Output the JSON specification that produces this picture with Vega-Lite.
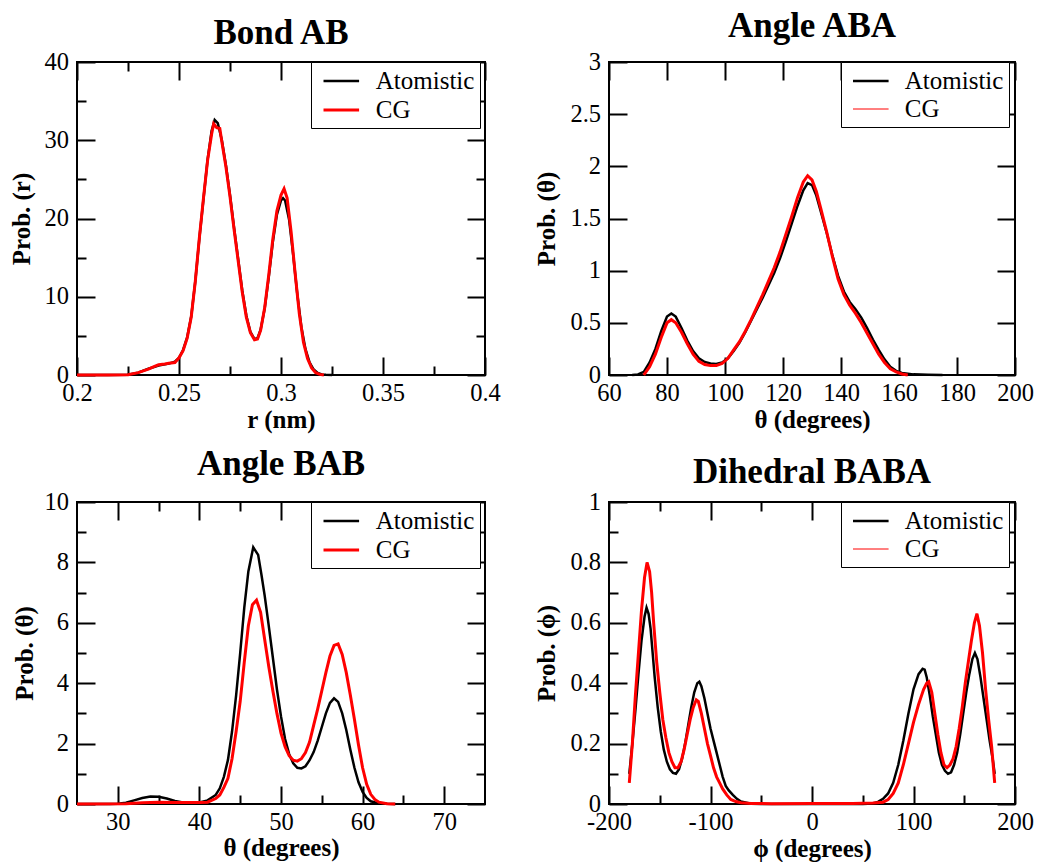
{
  "$schema": "https://vega.github.io/schema/vega-lite/v6.json",
  "background": "white",
  "padding": {"left": 8, "top": 8, "right": 0, "bottom": 0},
  "config": {
    "view": {"stroke": "black", "strokeWidth": 2},
    "title": {"font": "Liberation Serif", "fontSize": 35, "fontWeight": "bold", "color": "black", "anchor": "middle"},
    "axis": {"domain": false, "grid": false, "ticks": true, "tickColor": "black", "tickWidth": 2, "tickSize": -18, "minExtent": 0, "maxExtent": 0,
      "labelFont": "Liberation Serif", "labelFontSize": 24.5, "labelColor": "black", "labelOverlap": false, "labelFlush": false, "labelBound": false,
      "titleFont": "Liberation Serif", "titleFontSize": 25, "titleFontWeight": "bold", "titleColor": "black", "titleBaseline": "alphabetic"},
    "axisBottom": {"labelBaseline": "alphabetic", "labelPadding": 43.5},
    "axisLeft": {"labelPadding": 26.5, "labelAlign": "right", "labelBaseline": "middle"},
    "legend": {"labelFont": "Liberation Serif", "labelFontSize": 25, "labelColor": "black", "symbolType": "M-1.4,0L1.4,0", "symbolSize": 646, "symbolStrokeWidth": 3,
      "padding": 5, "rowPadding": 1.5, "labelOffset": 20, "symbolOffset": 10.8, "strokeColor": "black", "fillColor": "white"}
  },
  "resolve": {"scale": {"color": "independent", "strokeWidth": "independent"}, "legend": {"color": "independent", "strokeWidth": "independent"}},
  "datasets": {
    "bond": [
      {"x":0.2,"y":0,"s":"Atomistic"},{"x":0.215,"y":0,"s":"Atomistic"},{"x":0.225,"y":0.02,"s":"Atomistic"},{"x":0.23,"y":0.3,"s":"Atomistic"},{"x":0.235,"y":0.8,"s":"Atomistic"},{"x":0.24,"y":1.2,"s":"Atomistic"},{"x":0.245,"y":1.45,"s":"Atomistic"},{"x":0.248,"y":1.7,"s":"Atomistic"},{"x":0.25,"y":2.2,"s":"Atomistic"},{"x":0.252,"y":3.2,"s":"Atomistic"},{"x":0.254,"y":4.8,"s":"Atomistic"},{"x":0.256,"y":7.5,"s":"Atomistic"},{"x":0.258,"y":12,"s":"Atomistic"},{"x":0.26,"y":17.5,"s":"Atomistic"},{"x":0.262,"y":22.5,"s":"Atomistic"},{"x":0.264,"y":27.5,"s":"Atomistic"},{"x":0.266,"y":31.2,"s":"Atomistic"},{"x":0.2675,"y":32.6,"s":"Atomistic"},{"x":0.269,"y":32.2,"s":"Atomistic"},{"x":0.271,"y":30,"s":"Atomistic"},{"x":0.273,"y":26.8,"s":"Atomistic"},{"x":0.275,"y":23,"s":"Atomistic"},{"x":0.277,"y":18.8,"s":"Atomistic"},{"x":0.279,"y":14.8,"s":"Atomistic"},{"x":0.281,"y":10.8,"s":"Atomistic"},{"x":0.283,"y":7.6,"s":"Atomistic"},{"x":0.285,"y":5.5,"s":"Atomistic"},{"x":0.287,"y":4.6,"s":"Atomistic"},{"x":0.2885,"y":4.7,"s":"Atomistic"},{"x":0.29,"y":5.8,"s":"Atomistic"},{"x":0.292,"y":8.5,"s":"Atomistic"},{"x":0.294,"y":12.5,"s":"Atomistic"},{"x":0.296,"y":17,"s":"Atomistic"},{"x":0.298,"y":20.5,"s":"Atomistic"},{"x":0.3,"y":22.3,"s":"Atomistic"},{"x":0.301,"y":22.6,"s":"Atomistic"},{"x":0.302,"y":22.3,"s":"Atomistic"},{"x":0.304,"y":19.8,"s":"Atomistic"},{"x":0.306,"y":15.3,"s":"Atomistic"},{"x":0.308,"y":10.3,"s":"Atomistic"},{"x":0.31,"y":6.1,"s":"Atomistic"},{"x":0.312,"y":3.3,"s":"Atomistic"},{"x":0.314,"y":1.6,"s":"Atomistic"},{"x":0.316,"y":0.7,"s":"Atomistic"},{"x":0.318,"y":0.25,"s":"Atomistic"},{"x":0.32,"y":0.08,"s":"Atomistic"},{"x":0.322,"y":0.02,"s":"Atomistic"},{"x":0.325,"y":0,"s":"Atomistic"},
      {"x":0.2,"y":0,"s":"CG"},{"x":0.215,"y":0,"s":"CG"},{"x":0.225,"y":0.03,"s":"CG"},{"x":0.23,"y":0.3,"s":"CG"},{"x":0.235,"y":0.75,"s":"CG"},{"x":0.238,"y":1.1,"s":"CG"},{"x":0.24,"y":1.3,"s":"CG"},{"x":0.243,"y":1.4,"s":"CG"},{"x":0.245,"y":1.5,"s":"CG"},{"x":0.248,"y":1.6,"s":"CG"},{"x":0.25,"y":2.2,"s":"CG"},{"x":0.252,"y":3.1,"s":"CG"},{"x":0.254,"y":4.7,"s":"CG"},{"x":0.256,"y":7.4,"s":"CG"},{"x":0.258,"y":12,"s":"CG"},{"x":0.26,"y":17.6,"s":"CG"},{"x":0.262,"y":22.6,"s":"CG"},{"x":0.264,"y":27.4,"s":"CG"},{"x":0.266,"y":30.8,"s":"CG"},{"x":0.267,"y":32.1,"s":"CG"},{"x":0.2685,"y":31.6,"s":"CG"},{"x":0.27,"y":31.5,"s":"CG"},{"x":0.271,"y":29.8,"s":"CG"},{"x":0.273,"y":26.6,"s":"CG"},{"x":0.275,"y":22.8,"s":"CG"},{"x":0.277,"y":18.6,"s":"CG"},{"x":0.279,"y":14.6,"s":"CG"},{"x":0.281,"y":10.6,"s":"CG"},{"x":0.283,"y":7.4,"s":"CG"},{"x":0.285,"y":5.4,"s":"CG"},{"x":0.287,"y":4.5,"s":"CG"},{"x":0.2885,"y":4.6,"s":"CG"},{"x":0.29,"y":5.7,"s":"CG"},{"x":0.292,"y":8.6,"s":"CG"},{"x":0.294,"y":12.8,"s":"CG"},{"x":0.296,"y":17.4,"s":"CG"},{"x":0.298,"y":21,"s":"CG"},{"x":0.3,"y":23,"s":"CG"},{"x":0.3015,"y":23.8,"s":"CG"},{"x":0.303,"y":22.6,"s":"CG"},{"x":0.305,"y":18.2,"s":"CG"},{"x":0.307,"y":12.8,"s":"CG"},{"x":0.309,"y":7.8,"s":"CG"},{"x":0.311,"y":4.2,"s":"CG"},{"x":0.313,"y":2.1,"s":"CG"},{"x":0.315,"y":0.9,"s":"CG"},{"x":0.317,"y":0.3,"s":"CG"},{"x":0.319,"y":0.08,"s":"CG"},{"x":0.321,"y":0,"s":"CG"}
    ],
    "aba": [
      {"x":68,"y":0,"s":"Atomistic"},{"x":70,"y":0.005,"s":"Atomistic"},{"x":72,"y":0.03,"s":"Atomistic"},{"x":74,"y":0.12,"s":"Atomistic"},{"x":76,"y":0.25,"s":"Atomistic"},{"x":78,"y":0.42,"s":"Atomistic"},{"x":80,"y":0.56,"s":"Atomistic"},{"x":81.5,"y":0.59,"s":"Atomistic"},{"x":83,"y":0.56,"s":"Atomistic"},{"x":85,"y":0.45,"s":"Atomistic"},{"x":87,"y":0.33,"s":"Atomistic"},{"x":89,"y":0.23,"s":"Atomistic"},{"x":91,"y":0.16,"s":"Atomistic"},{"x":93,"y":0.125,"s":"Atomistic"},{"x":95,"y":0.11,"s":"Atomistic"},{"x":97,"y":0.105,"s":"Atomistic"},{"x":99,"y":0.12,"s":"Atomistic"},{"x":101,"y":0.16,"s":"Atomistic"},{"x":103,"y":0.23,"s":"Atomistic"},{"x":105,"y":0.31,"s":"Atomistic"},{"x":107,"y":0.41,"s":"Atomistic"},{"x":109,"y":0.52,"s":"Atomistic"},{"x":111,"y":0.63,"s":"Atomistic"},{"x":113,"y":0.74,"s":"Atomistic"},{"x":115,"y":0.86,"s":"Atomistic"},{"x":117,"y":0.98,"s":"Atomistic"},{"x":119,"y":1.12,"s":"Atomistic"},{"x":121,"y":1.28,"s":"Atomistic"},{"x":123,"y":1.45,"s":"Atomistic"},{"x":125,"y":1.62,"s":"Atomistic"},{"x":127,"y":1.77,"s":"Atomistic"},{"x":128.5,"y":1.84,"s":"Atomistic"},{"x":130,"y":1.82,"s":"Atomistic"},{"x":131.5,"y":1.72,"s":"Atomistic"},{"x":133,"y":1.57,"s":"Atomistic"},{"x":135,"y":1.37,"s":"Atomistic"},{"x":137,"y":1.15,"s":"Atomistic"},{"x":139,"y":0.95,"s":"Atomistic"},{"x":141,"y":0.8,"s":"Atomistic"},{"x":143,"y":0.7,"s":"Atomistic"},{"x":145,"y":0.63,"s":"Atomistic"},{"x":147,"y":0.55,"s":"Atomistic"},{"x":149,"y":0.45,"s":"Atomistic"},{"x":151,"y":0.34,"s":"Atomistic"},{"x":153,"y":0.24,"s":"Atomistic"},{"x":155,"y":0.15,"s":"Atomistic"},{"x":157,"y":0.08,"s":"Atomistic"},{"x":159,"y":0.04,"s":"Atomistic"},{"x":161,"y":0.02,"s":"Atomistic"},{"x":165,"y":0.006,"s":"Atomistic"},{"x":170,"y":0.002,"s":"Atomistic"},{"x":175,"y":0,"s":"Atomistic"},
      {"x":72,"y":0,"s":"CG"},{"x":74,"y":0.08,"s":"CG"},{"x":76,"y":0.2,"s":"CG"},{"x":78,"y":0.36,"s":"CG"},{"x":80,"y":0.5,"s":"CG"},{"x":81.5,"y":0.53,"s":"CG"},{"x":83,"y":0.5,"s":"CG"},{"x":85,"y":0.41,"s":"CG"},{"x":87,"y":0.3,"s":"CG"},{"x":89,"y":0.2,"s":"CG"},{"x":91,"y":0.13,"s":"CG"},{"x":93,"y":0.1,"s":"CG"},{"x":95,"y":0.09,"s":"CG"},{"x":97,"y":0.09,"s":"CG"},{"x":99,"y":0.11,"s":"CG"},{"x":101,"y":0.16,"s":"CG"},{"x":103,"y":0.24,"s":"CG"},{"x":105,"y":0.32,"s":"CG"},{"x":107,"y":0.42,"s":"CG"},{"x":109,"y":0.53,"s":"CG"},{"x":111,"y":0.65,"s":"CG"},{"x":113,"y":0.77,"s":"CG"},{"x":115,"y":0.9,"s":"CG"},{"x":117,"y":1.03,"s":"CG"},{"x":119,"y":1.18,"s":"CG"},{"x":121,"y":1.35,"s":"CG"},{"x":123,"y":1.52,"s":"CG"},{"x":125,"y":1.7,"s":"CG"},{"x":127,"y":1.85,"s":"CG"},{"x":128.5,"y":1.91,"s":"CG"},{"x":130,"y":1.87,"s":"CG"},{"x":131.5,"y":1.76,"s":"CG"},{"x":133,"y":1.6,"s":"CG"},{"x":135,"y":1.38,"s":"CG"},{"x":137,"y":1.14,"s":"CG"},{"x":139,"y":0.92,"s":"CG"},{"x":141,"y":0.77,"s":"CG"},{"x":143,"y":0.67,"s":"CG"},{"x":145,"y":0.59,"s":"CG"},{"x":147,"y":0.5,"s":"CG"},{"x":149,"y":0.4,"s":"CG"},{"x":151,"y":0.3,"s":"CG"},{"x":153,"y":0.2,"s":"CG"},{"x":155,"y":0.12,"s":"CG"},{"x":157,"y":0.06,"s":"CG"},{"x":159,"y":0.03,"s":"CG"},{"x":161,"y":0.01,"s":"CG"},{"x":163,"y":0,"s":"CG"}
    ],
    "bab": [
      {"x":25,"y":0,"s":"Atomistic"},{"x":29,"y":0,"s":"Atomistic"},{"x":30,"y":0.01,"s":"Atomistic"},{"x":31,"y":0.04,"s":"Atomistic"},{"x":32,"y":0.12,"s":"Atomistic"},{"x":33,"y":0.2,"s":"Atomistic"},{"x":34,"y":0.25,"s":"Atomistic"},{"x":35,"y":0.24,"s":"Atomistic"},{"x":36,"y":0.18,"s":"Atomistic"},{"x":37,"y":0.1,"s":"Atomistic"},{"x":38,"y":0.05,"s":"Atomistic"},{"x":39,"y":0.04,"s":"Atomistic"},{"x":40,"y":0.05,"s":"Atomistic"},{"x":41,"y":0.12,"s":"Atomistic"},{"x":42,"y":0.3,"s":"Atomistic"},{"x":42.5,"y":0.52,"s":"Atomistic"},{"x":43,"y":0.9,"s":"Atomistic"},{"x":43.5,"y":1.46,"s":"Atomistic"},{"x":44,"y":2.4,"s":"Atomistic"},{"x":44.5,"y":3.6,"s":"Atomistic"},{"x":45,"y":5,"s":"Atomistic"},{"x":45.5,"y":6.5,"s":"Atomistic"},{"x":46,"y":7.7,"s":"Atomistic"},{"x":46.6,"y":8.5,"s":"Atomistic"},{"x":47.2,"y":8.25,"s":"Atomistic"},{"x":47.6,"y":7.6,"s":"Atomistic"},{"x":48,"y":6.9,"s":"Atomistic"},{"x":48.5,"y":5.9,"s":"Atomistic"},{"x":49,"y":4.85,"s":"Atomistic"},{"x":49.5,"y":3.8,"s":"Atomistic"},{"x":50,"y":2.9,"s":"Atomistic"},{"x":50.5,"y":2.15,"s":"Atomistic"},{"x":51,"y":1.65,"s":"Atomistic"},{"x":51.5,"y":1.35,"s":"Atomistic"},{"x":52,"y":1.2,"s":"Atomistic"},{"x":52.5,"y":1.18,"s":"Atomistic"},{"x":53,"y":1.25,"s":"Atomistic"},{"x":53.5,"y":1.45,"s":"Atomistic"},{"x":54,"y":1.72,"s":"Atomistic"},{"x":54.5,"y":2.1,"s":"Atomistic"},{"x":55,"y":2.55,"s":"Atomistic"},{"x":55.5,"y":3.0,"s":"Atomistic"},{"x":56,"y":3.35,"s":"Atomistic"},{"x":56.5,"y":3.5,"s":"Atomistic"},{"x":57,"y":3.38,"s":"Atomistic"},{"x":57.5,"y":3.0,"s":"Atomistic"},{"x":58,"y":2.45,"s":"Atomistic"},{"x":58.5,"y":1.8,"s":"Atomistic"},{"x":59,"y":1.2,"s":"Atomistic"},{"x":59.5,"y":0.72,"s":"Atomistic"},{"x":60,"y":0.4,"s":"Atomistic"},{"x":60.5,"y":0.2,"s":"Atomistic"},{"x":61,"y":0.09,"s":"Atomistic"},{"x":62,"y":0.02,"s":"Atomistic"},{"x":63,"y":0.005,"s":"Atomistic"},{"x":64,"y":0,"s":"Atomistic"},
      {"x":25,"y":0,"s":"CG"},{"x":31,"y":0.01,"s":"CG"},{"x":33,"y":0.04,"s":"CG"},{"x":35,"y":0.06,"s":"CG"},{"x":37,"y":0.05,"s":"CG"},{"x":39,"y":0.05,"s":"CG"},{"x":40,"y":0.05,"s":"CG"},{"x":41,"y":0.06,"s":"CG"},{"x":42,"y":0.18,"s":"CG"},{"x":42.5,"y":0.3,"s":"CG"},{"x":43,"y":0.55,"s":"CG"},{"x":43.5,"y":0.85,"s":"CG"},{"x":44,"y":1.5,"s":"CG"},{"x":44.5,"y":2.4,"s":"CG"},{"x":45,"y":3.4,"s":"CG"},{"x":45.5,"y":4.7,"s":"CG"},{"x":46,"y":5.9,"s":"CG"},{"x":46.5,"y":6.6,"s":"CG"},{"x":47,"y":6.75,"s":"CG"},{"x":47.5,"y":6.35,"s":"CG"},{"x":48,"y":5.45,"s":"CG"},{"x":48.5,"y":4.55,"s":"CG"},{"x":49,"y":3.75,"s":"CG"},{"x":49.5,"y":3.0,"s":"CG"},{"x":50,"y":2.35,"s":"CG"},{"x":50.5,"y":1.9,"s":"CG"},{"x":51,"y":1.6,"s":"CG"},{"x":51.5,"y":1.45,"s":"CG"},{"x":52,"y":1.42,"s":"CG"},{"x":52.5,"y":1.5,"s":"CG"},{"x":53,"y":1.7,"s":"CG"},{"x":53.5,"y":2.05,"s":"CG"},{"x":54,"y":2.6,"s":"CG"},{"x":54.5,"y":3.15,"s":"CG"},{"x":55,"y":3.75,"s":"CG"},{"x":55.5,"y":4.35,"s":"CG"},{"x":56,"y":4.9,"s":"CG"},{"x":56.5,"y":5.25,"s":"CG"},{"x":57,"y":5.3,"s":"CG"},{"x":57.5,"y":4.95,"s":"CG"},{"x":58,"y":4.35,"s":"CG"},{"x":58.5,"y":3.6,"s":"CG"},{"x":59,"y":2.8,"s":"CG"},{"x":59.5,"y":1.95,"s":"CG"},{"x":60,"y":1.2,"s":"CG"},{"x":60.5,"y":0.65,"s":"CG"},{"x":61,"y":0.32,"s":"CG"},{"x":61.5,"y":0.15,"s":"CG"},{"x":62,"y":0.06,"s":"CG"},{"x":63,"y":0.01,"s":"CG"},{"x":64,"y":0,"s":"CG"}
    ],
    "dih": [
      {"x":-180,"y":0.1,"s":"Atomistic"},{"x":-177,"y":0.2,"s":"Atomistic"},{"x":-174,"y":0.31,"s":"Atomistic"},{"x":-171,"y":0.43,"s":"Atomistic"},{"x":-168,"y":0.54,"s":"Atomistic"},{"x":-165,"y":0.62,"s":"Atomistic"},{"x":-163,"y":0.65,"s":"Atomistic"},{"x":-161,"y":0.63,"s":"Atomistic"},{"x":-159,"y":0.58,"s":"Atomistic"},{"x":-157,"y":0.5,"s":"Atomistic"},{"x":-155,"y":0.42,"s":"Atomistic"},{"x":-152,"y":0.32,"s":"Atomistic"},{"x":-149,"y":0.24,"s":"Atomistic"},{"x":-146,"y":0.18,"s":"Atomistic"},{"x":-143,"y":0.14,"s":"Atomistic"},{"x":-140,"y":0.115,"s":"Atomistic"},{"x":-137,"y":0.103,"s":"Atomistic"},{"x":-134,"y":0.1,"s":"Atomistic"},{"x":-131,"y":0.115,"s":"Atomistic"},{"x":-128,"y":0.15,"s":"Atomistic"},{"x":-125,"y":0.2,"s":"Atomistic"},{"x":-122,"y":0.26,"s":"Atomistic"},{"x":-119,"y":0.32,"s":"Atomistic"},{"x":-116,"y":0.37,"s":"Atomistic"},{"x":-113,"y":0.4,"s":"Atomistic"},{"x":-111,"y":0.405,"s":"Atomistic"},{"x":-109,"y":0.39,"s":"Atomistic"},{"x":-106,"y":0.35,"s":"Atomistic"},{"x":-103,"y":0.3,"s":"Atomistic"},{"x":-100,"y":0.25,"s":"Atomistic"},{"x":-97,"y":0.21,"s":"Atomistic"},{"x":-94,"y":0.17,"s":"Atomistic"},{"x":-91,"y":0.13,"s":"Atomistic"},{"x":-88,"y":0.09,"s":"Atomistic"},{"x":-85,"y":0.06,"s":"Atomistic"},{"x":-82,"y":0.045,"s":"Atomistic"},{"x":-78,"y":0.03,"s":"Atomistic"},{"x":-74,"y":0.017,"s":"Atomistic"},{"x":-70,"y":0.008,"s":"Atomistic"},{"x":-60,"y":0.001,"s":"Atomistic"},{"x":-50,"y":0,"s":"Atomistic"},{"x":50,"y":0,"s":"Atomistic"},{"x":60,"y":0.002,"s":"Atomistic"},{"x":65,"y":0.007,"s":"Atomistic"},{"x":70,"y":0.017,"s":"Atomistic"},{"x":75,"y":0.035,"s":"Atomistic"},{"x":80,"y":0.07,"s":"Atomistic"},{"x":85,"y":0.13,"s":"Atomistic"},{"x":90,"y":0.21,"s":"Atomistic"},{"x":95,"y":0.3,"s":"Atomistic"},{"x":100,"y":0.38,"s":"Atomistic"},{"x":105,"y":0.43,"s":"Atomistic"},{"x":109,"y":0.448,"s":"Atomistic"},{"x":111,"y":0.445,"s":"Atomistic"},{"x":113,"y":0.42,"s":"Atomistic"},{"x":116,"y":0.36,"s":"Atomistic"},{"x":119,"y":0.29,"s":"Atomistic"},{"x":122,"y":0.23,"s":"Atomistic"},{"x":125,"y":0.17,"s":"Atomistic"},{"x":128,"y":0.13,"s":"Atomistic"},{"x":131,"y":0.11,"s":"Atomistic"},{"x":134,"y":0.1,"s":"Atomistic"},{"x":137,"y":0.105,"s":"Atomistic"},{"x":140,"y":0.13,"s":"Atomistic"},{"x":143,"y":0.17,"s":"Atomistic"},{"x":146,"y":0.23,"s":"Atomistic"},{"x":149,"y":0.3,"s":"Atomistic"},{"x":152,"y":0.37,"s":"Atomistic"},{"x":155,"y":0.43,"s":"Atomistic"},{"x":158,"y":0.48,"s":"Atomistic"},{"x":160.5,"y":0.5,"s":"Atomistic"},{"x":163,"y":0.48,"s":"Atomistic"},{"x":166,"y":0.42,"s":"Atomistic"},{"x":169,"y":0.35,"s":"Atomistic"},{"x":172,"y":0.28,"s":"Atomistic"},{"x":175,"y":0.21,"s":"Atomistic"},{"x":178,"y":0.15,"s":"Atomistic"},{"x":180,"y":0.1,"s":"Atomistic"},
      {"x":-180,"y":0.07,"s":"CG"},{"x":-177,"y":0.2,"s":"CG"},{"x":-174,"y":0.36,"s":"CG"},{"x":-171,"y":0.5,"s":"CG"},{"x":-168,"y":0.64,"s":"CG"},{"x":-165,"y":0.75,"s":"CG"},{"x":-162.5,"y":0.8,"s":"CG"},{"x":-160,"y":0.77,"s":"CG"},{"x":-158,"y":0.7,"s":"CG"},{"x":-156,"y":0.6,"s":"CG"},{"x":-153,"y":0.47,"s":"CG"},{"x":-150,"y":0.37,"s":"CG"},{"x":-147,"y":0.28,"s":"CG"},{"x":-144,"y":0.22,"s":"CG"},{"x":-141,"y":0.17,"s":"CG"},{"x":-138,"y":0.14,"s":"CG"},{"x":-135,"y":0.12,"s":"CG"},{"x":-132,"y":0.12,"s":"CG"},{"x":-129,"y":0.14,"s":"CG"},{"x":-126,"y":0.18,"s":"CG"},{"x":-123,"y":0.23,"s":"CG"},{"x":-120,"y":0.28,"s":"CG"},{"x":-117,"y":0.32,"s":"CG"},{"x":-114,"y":0.345,"s":"CG"},{"x":-112,"y":0.34,"s":"CG"},{"x":-109,"y":0.3,"s":"CG"},{"x":-106,"y":0.25,"s":"CG"},{"x":-103,"y":0.2,"s":"CG"},{"x":-100,"y":0.16,"s":"CG"},{"x":-97,"y":0.12,"s":"CG"},{"x":-94,"y":0.09,"s":"CG"},{"x":-91,"y":0.07,"s":"CG"},{"x":-88,"y":0.05,"s":"CG"},{"x":-84,"y":0.03,"s":"CG"},{"x":-80,"y":0.015,"s":"CG"},{"x":-75,"y":0.008,"s":"CG"},{"x":-70,"y":0.004,"s":"CG"},{"x":-60,"y":0.002,"s":"CG"},{"x":-40,"y":0.001,"s":"CG"},{"x":0,"y":0.002,"s":"CG"},{"x":40,"y":0.002,"s":"CG"},{"x":60,"y":0.003,"s":"CG"},{"x":70,"y":0.006,"s":"CG"},{"x":75,"y":0.015,"s":"CG"},{"x":80,"y":0.035,"s":"CG"},{"x":85,"y":0.07,"s":"CG"},{"x":90,"y":0.13,"s":"CG"},{"x":95,"y":0.2,"s":"CG"},{"x":100,"y":0.27,"s":"CG"},{"x":105,"y":0.33,"s":"CG"},{"x":110,"y":0.38,"s":"CG"},{"x":113,"y":0.4,"s":"CG"},{"x":115,"y":0.405,"s":"CG"},{"x":118,"y":0.37,"s":"CG"},{"x":121,"y":0.3,"s":"CG"},{"x":124,"y":0.23,"s":"CG"},{"x":127,"y":0.17,"s":"CG"},{"x":130,"y":0.13,"s":"CG"},{"x":133,"y":0.12,"s":"CG"},{"x":136,"y":0.13,"s":"CG"},{"x":139,"y":0.15,"s":"CG"},{"x":142,"y":0.19,"s":"CG"},{"x":145,"y":0.25,"s":"CG"},{"x":148,"y":0.32,"s":"CG"},{"x":151,"y":0.4,"s":"CG"},{"x":154,"y":0.47,"s":"CG"},{"x":157,"y":0.54,"s":"CG"},{"x":160,"y":0.6,"s":"CG"},{"x":162.5,"y":0.63,"s":"CG"},{"x":165,"y":0.59,"s":"CG"},{"x":168,"y":0.5,"s":"CG"},{"x":171,"y":0.38,"s":"CG"},{"x":174,"y":0.28,"s":"CG"},{"x":177,"y":0.19,"s":"CG"},{"x":180,"y":0.07,"s":"CG"}
    ]
  },
  "columns": 2,
  "bounds": "flush",
  "spacing": {"row": 127, "column": 124},
  "concat": [
    {
      "width": 408, "height": 313,
      "title": {"text": "Bond AB", "offset": -30, "baseline": "alphabetic", "frame": "group"},
      "data": {"name": "bond"},
      "resolve": {"axis": {"x": "independent", "y": "independent"}},
      "layer": [
        {"mark": {"type": "line"},
         "encoding": {
           "x": {"field": "x", "type": "quantitative", "scale": {"domain": [0.2, 0.4], "nice": false, "zero": false},
                 "axis": {"orient": "bottom", "values": [0.2, 0.25, 0.3, 0.35, 0.4], "labelExpr": "'' + datum.value", "title": "r (nm)", "titleX": 204, "titleY": 52}},
           "y": {"field": "y", "type": "quantitative", "scale": {"domain": [0, 40], "nice": false, "zero": false},
                 "axis": {"orient": "left", "values": [0, 10, 20, 30, 40], "labelExpr": "'' + datum.value", "title": "Prob. (r)", "titleX": -48, "titleY": 156.5}},
           "color": {"field": "s", "type": "nominal", "scale": {"domain": ["Atomistic", "CG"], "range": ["#000000", "#ff0000"]},
                     "legend": {"orient": "none", "legendX": 234, "legendY": 0, "title": null, "rowPadding": 1.5, "encode": {"symbols": {"update": {"strokeWidth": {"value": 3}}}}}},
           "strokeWidth": {"field": "s", "type": "nominal", "scale": {"domain": ["Atomistic", "CG"], "range": [2.5, 3]}, "legend": null}
         }},
        {"mark": {"type": "point", "opacity": 0},
         "encoding": {
           "x": {"field": "x", "type": "quantitative", "scale": {"domain": [0.2, 0.4], "nice": false, "zero": false},
                 "axis": {"orient": "top", "values": [0.2, 0.25, 0.3, 0.35, 0.4], "labels": false, "title": null}},
           "y": {"field": "y", "type": "quantitative", "scale": {"domain": [0, 40], "nice": false, "zero": false},
                 "axis": {"orient": "right", "values": [0, 10, 20, 30, 40], "labels": false, "title": null}}
         }},
        {"mark": {"type": "point", "opacity": 0},
         "encoding": {
           "x": {"field": "x", "type": "quantitative", "scale": {"domain": [0.2, 0.4], "nice": false, "zero": false},
                 "axis": {"orient": "bottom", "values": [0.225, 0.275, 0.325, 0.375], "labels": false, "title": null, "tickSize": -9}},
           "y": {"field": "y", "type": "quantitative", "scale": {"domain": [0, 40], "nice": false, "zero": false},
                 "axis": {"orient": "left", "values": [5, 15, 25, 35], "labels": false, "title": null, "tickSize": -9}}
         }},
        {"mark": {"type": "point", "opacity": 0},
         "encoding": {
           "x": {"field": "x", "type": "quantitative", "scale": {"domain": [0.2, 0.4], "nice": false, "zero": false},
                 "axis": {"orient": "top", "values": [0.225, 0.275, 0.325, 0.375], "labels": false, "title": null, "tickSize": -9}},
           "y": {"field": "y", "type": "quantitative", "scale": {"domain": [0, 40], "nice": false, "zero": false},
                 "axis": {"orient": "right", "values": [5, 15, 25, 35], "labels": false, "title": null, "tickSize": -9}}
         }}
      ]
    },
    {
      "width": 406, "height": 313,
      "title": {"text": "Angle ABA", "offset": -23, "baseline": "alphabetic", "frame": "group"},
      "data": {"name": "aba"},
      "resolve": {"axis": {"x": "independent", "y": "independent"}},
      "layer": [
        {"mark": {"type": "line"},
         "encoding": {
           "x": {"field": "x", "type": "quantitative", "scale": {"domain": [60, 200], "nice": false, "zero": false},
                 "axis": {"orient": "bottom", "values": [60, 80, 100, 120, 140, 160, 180, 200], "labelExpr": "'' + datum.value", "title": "θ (degrees)", "titleX": 203, "titleY": 52}},
           "y": {"field": "y", "type": "quantitative", "scale": {"domain": [0, 3], "nice": false, "zero": false},
                 "axis": {"orient": "left", "values": [0, 0.5, 1, 1.5, 2, 2.5, 3], "labelExpr": "'' + datum.value", "title": "Prob. (θ)", "titleX": -55, "titleY": 156.5}},
           "color": {"field": "s", "type": "nominal", "scale": {"domain": ["Atomistic", "CG"], "range": ["#000000", "#ff0000"]},
                     "legend": {"orient": "none", "legendX": 232, "legendY": 0, "title": null, "rowPadding": 1.5}},
           "strokeWidth": {"field": "s", "type": "nominal", "scale": {"domain": ["Atomistic", "CG"], "range": [2.5, 1]},
                     "legend": {"orient": "none", "legendX": 232, "legendY": 0, "title": null, "rowPadding": 1.5}}
         }},
        {"transform": [{"filter": "datum.s === 'CG'"}],
         "mark": {"type": "line", "color": "#ff0000", "strokeWidth": 3},
         "encoding": {
           "x": {"field": "x", "type": "quantitative", "scale": {"domain": [60, 200], "nice": false, "zero": false}, "axis": null},
           "y": {"field": "y", "type": "quantitative", "scale": {"domain": [0, 3], "nice": false, "zero": false}, "axis": null}
         }},
        {"mark": {"type": "point", "opacity": 0},
         "encoding": {
           "x": {"field": "x", "type": "quantitative", "scale": {"domain": [60, 200], "nice": false, "zero": false},
                 "axis": {"orient": "top", "values": [60, 80, 100, 120, 140, 160, 180, 200], "labels": false, "title": null}},
           "y": {"field": "y", "type": "quantitative", "scale": {"domain": [0, 3], "nice": false, "zero": false},
                 "axis": {"orient": "right", "values": [0, 0.5, 1, 1.5, 2, 2.5, 3], "labels": false, "title": null}}
         }}
      ]
    },
    {
      "width": 408, "height": 302,
      "title": {"text": "Angle BAB", "offset": -21, "baseline": "alphabetic", "frame": "group"},
      "data": {"name": "bab"},
      "resolve": {"axis": {"x": "independent", "y": "independent"}},
      "layer": [
        {"mark": {"type": "line"},
         "encoding": {
           "x": {"field": "x", "type": "quantitative", "scale": {"domain": [25, 75], "nice": false, "zero": false},
                 "axis": {"orient": "bottom", "values": [30, 40, 50, 60, 70], "labelExpr": "'' + datum.value", "title": "θ (degrees)", "titleX": 204, "titleY": 51.5}},
           "y": {"field": "y", "type": "quantitative", "scale": {"domain": [0, 10], "nice": false, "zero": false},
                 "axis": {"orient": "left", "values": [0, 2, 4, 6, 8, 10], "labelExpr": "'' + datum.value", "title": "Prob. (θ)", "titleX": -45, "titleY": 151}},
           "color": {"field": "s", "type": "nominal", "scale": {"domain": ["Atomistic", "CG"], "range": ["#000000", "#ff0000"]},
                     "legend": {"orient": "none", "legendX": 234, "legendY": 0, "title": null, "rowPadding": 1.5, "encode": {"symbols": {"update": {"strokeWidth": {"value": 3}}}}}},
           "strokeWidth": {"field": "s", "type": "nominal", "scale": {"domain": ["Atomistic", "CG"], "range": [2.5, 3]}, "legend": null}
         }},
        {"mark": {"type": "point", "opacity": 0},
         "encoding": {
           "x": {"field": "x", "type": "quantitative", "scale": {"domain": [25, 75], "nice": false, "zero": false},
                 "axis": {"orient": "top", "values": [30, 40, 50, 60, 70], "labels": false, "title": null}},
           "y": {"field": "y", "type": "quantitative", "scale": {"domain": [0, 10], "nice": false, "zero": false},
                 "axis": {"orient": "right", "values": [0, 2, 4, 6, 8, 10], "labels": false, "title": null}}
         }},
        {"mark": {"type": "point", "opacity": 0},
         "encoding": {
           "x": {"field": "x", "type": "quantitative", "scale": {"domain": [25, 75], "nice": false, "zero": false},
                 "axis": {"orient": "bottom", "values": [35, 45, 55, 65], "labels": false, "title": null, "tickSize": -9}},
           "y": {"field": "y", "type": "quantitative", "scale": {"domain": [0, 10], "nice": false, "zero": false},
                 "axis": {"orient": "left", "values": [1, 3, 5, 7, 9], "labels": false, "title": null, "tickSize": -9}}
         }},
        {"mark": {"type": "point", "opacity": 0},
         "encoding": {
           "x": {"field": "x", "type": "quantitative", "scale": {"domain": [25, 75], "nice": false, "zero": false},
                 "axis": {"orient": "top", "values": [35, 45, 55, 65], "labels": false, "title": null, "tickSize": -9}},
           "y": {"field": "y", "type": "quantitative", "scale": {"domain": [0, 10], "nice": false, "zero": false},
                 "axis": {"orient": "right", "values": [1, 3, 5, 7, 9], "labels": false, "title": null, "tickSize": -9}}
         }}
      ]
    },
    {
      "width": 406, "height": 302,
      "title": {"text": "Dihedral BABA", "offset": -29, "baseline": "alphabetic", "frame": "group"},
      "data": {"name": "dih"},
      "resolve": {"axis": {"x": "independent", "y": "independent"}},
      "layer": [
        {"mark": {"type": "line"},
         "encoding": {
           "x": {"field": "x", "type": "quantitative", "scale": {"domain": [-200, 200], "nice": false, "zero": false},
                 "axis": {"orient": "bottom", "values": [-200, -100, 0, 100, 200], "labelExpr": "'' + datum.value", "title": "ϕ (degrees)", "titleX": 203, "titleY": 52}},
           "y": {"field": "y", "type": "quantitative", "scale": {"domain": [0, 1], "nice": false, "zero": false},
                 "axis": {"orient": "left", "values": [0, 0.2, 0.4, 0.6, 0.8, 1], "labelExpr": "'' + datum.value", "title": "Prob. (ϕ)", "titleX": -55, "titleY": 151}},
           "color": {"field": "s", "type": "nominal", "scale": {"domain": ["Atomistic", "CG"], "range": ["#000000", "#ff0000"]},
                     "legend": {"orient": "none", "legendX": 232, "legendY": 0, "title": null, "rowPadding": 1.5}},
           "strokeWidth": {"field": "s", "type": "nominal", "scale": {"domain": ["Atomistic", "CG"], "range": [2.5, 1]},
                     "legend": {"orient": "none", "legendX": 232, "legendY": 0, "title": null, "rowPadding": 1.5}}
         }},
        {"transform": [{"filter": "datum.s === 'CG'"}],
         "mark": {"type": "line", "color": "#ff0000", "strokeWidth": 3},
         "encoding": {
           "x": {"field": "x", "type": "quantitative", "scale": {"domain": [-200, 200], "nice": false, "zero": false}, "axis": null},
           "y": {"field": "y", "type": "quantitative", "scale": {"domain": [0, 1], "nice": false, "zero": false}, "axis": null}
         }},
        {"mark": {"type": "point", "opacity": 0},
         "encoding": {
           "x": {"field": "x", "type": "quantitative", "scale": {"domain": [-200, 200], "nice": false, "zero": false},
                 "axis": {"orient": "top", "values": [-200, -100, 0, 100, 200], "labels": false, "title": null}},
           "y": {"field": "y", "type": "quantitative", "scale": {"domain": [0, 1], "nice": false, "zero": false},
                 "axis": {"orient": "right", "values": [0, 0.2, 0.4, 0.6, 0.8, 1], "labels": false, "title": null}}
         }},
        {"mark": {"type": "point", "opacity": 0},
         "encoding": {
           "x": {"field": "x", "type": "quantitative", "scale": {"domain": [-200, 200], "nice": false, "zero": false},
                 "axis": {"orient": "bottom", "values": [-150, -50, 50, 150], "labels": false, "title": null, "tickSize": -9}},
           "y": {"field": "y", "type": "quantitative", "scale": {"domain": [0, 1], "nice": false, "zero": false},
                 "axis": {"orient": "left", "values": [0.1, 0.3, 0.5, 0.7, 0.9], "labels": false, "title": null, "tickSize": -9}}
         }},
        {"mark": {"type": "point", "opacity": 0},
         "encoding": {
           "x": {"field": "x", "type": "quantitative", "scale": {"domain": [-200, 200], "nice": false, "zero": false},
                 "axis": {"orient": "top", "values": [-150, -50, 50, 150], "labels": false, "title": null, "tickSize": -9}},
           "y": {"field": "y", "type": "quantitative", "scale": {"domain": [0, 1], "nice": false, "zero": false},
                 "axis": {"orient": "right", "values": [0.1, 0.3, 0.5, 0.7, 0.9], "labels": false, "title": null, "tickSize": -9}}
         }}
      ]
    }
  ]
}
